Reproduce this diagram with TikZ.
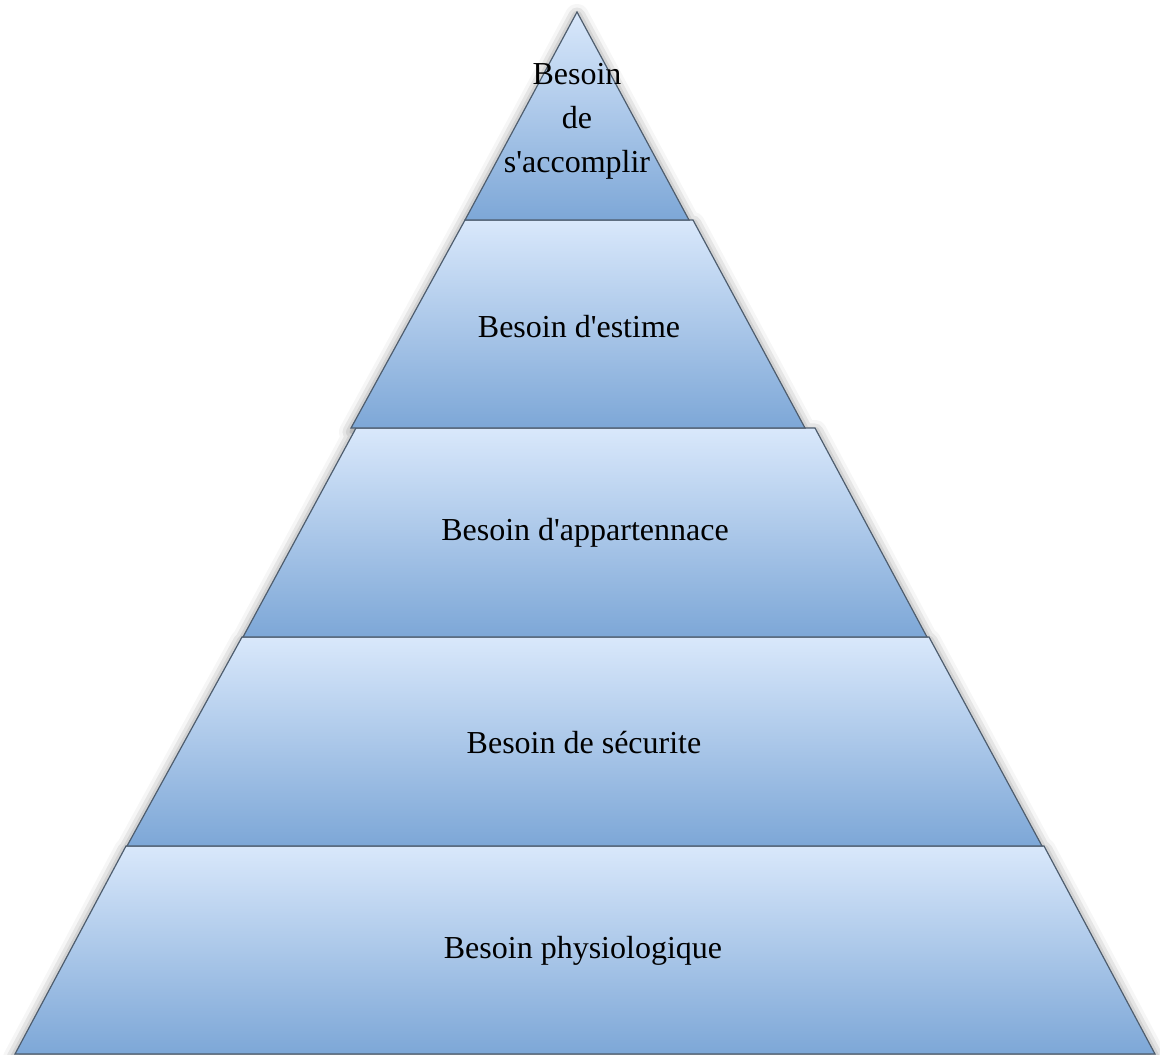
\documentclass[tikz,border=0pt]{standalone}
\usepackage{fontspec}
\setmainfont{Liberation Serif}
\usepackage{tikz}
\usetikzlibrary{shadows.blur}

\definecolor{layertop}{HTML}{D9E8FB}
\definecolor{layerbot}{HTML}{7DA7D7}
\definecolor{layeredge}{HTML}{4E5D6E}

\tikzset{
  layer/.style={draw=layeredge,line width=0.6pt,top color=layertop,bottom color=layerbot},
  pyrshadow/.style={fill=white,
    blur shadow={shadow xshift=0pt,shadow yshift=-2pt,shadow blur radius=6pt,shadow opacity=55}},
  label/.style={font=\fontsize{16}{22}\selectfont,align=center,inner sep=0pt}
}

\begin{document}
\begin{tikzpicture}[x=0.5pt,y=-0.5pt]
    \useasboundingbox (0,0) rectangle (1160,1054);

    % shadow under the whole pyramid
    \path[pyrshadow] (577,12) -- (689,220) -- (693,220) -- (805,428) -- (815,428) -- (927,637)
      -- (929,637) -- (1042,846) -- (1044,846) -- (1155,1054) -- (15,1054) -- (126,846)
      -- (127,846) -- (242,637) -- (243,637) -- (356,428) -- (351,428) -- (465,220) -- cycle;

    % layers, bottom first
    \path[layer] (126,846) -- (1044,846) -- (1155,1054) -- (15,1054) -- cycle;
    \path[layer] (242,637) -- (929,637) -- (1042,846) -- (127,846) -- cycle;
    \path[layer] (356,428) -- (815,428) -- (927,637) -- (243,637) -- cycle;
    \path[layer] (465,220) -- (693,220) -- (805,428) -- (351,428) -- cycle;
    \path[layer] (577,12) -- (689,220) -- (465,220) -- cycle;

    % labels
    \node[label] (accomplir) at (577,121) {Besoin\\de\\s\textquotesingle accomplir};
    \node[label] (estime) at (579,327) {Besoin d\textquotesingle estime};
    \node[label] (appartenance) at (585,533) {Besoin d\textquotesingle appartennace};
    \node[label] (securite) at (584,743) {Besoin de sécurite};
    \node[label] (physio) at (583,951) {Besoin physiologique};

  \end{tikzpicture}
\end{document}
